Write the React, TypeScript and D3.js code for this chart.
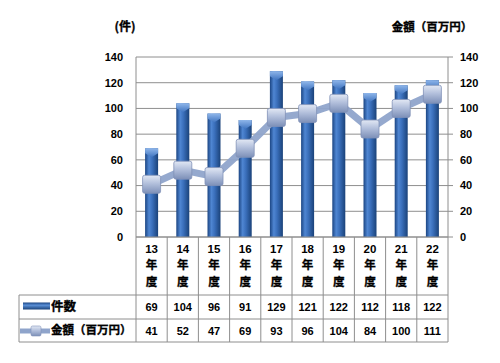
import React from "react";
import * as d3 from "d3";

const categories = ["13", "14", "15", "16", "17", "18", "19", "20", "21", "22"];
const counts = [69, 104, 96, 91, 129, 121, 122, 112, 118, 122];
const amounts = [41, 52, 47, 69, 93, 96, 104, 84, 100, 111];
const ticks = [0, 20, 40, 60, 80, 100, 120, 140];
const leftTitle = "(件)";
const rightTitle = "金額（百万円）";
const seriesNames = ["件数", "金額（百万円）"];

const W = 500;
const H = 363;
const L = 136;
const R = 448;
const T = 57;
const B = 237;
const ROW1 = 295;
const ROW2 = 319;
const ROW3 = 342;
const TL = 19;

const font = "'Liberation Sans', 'Noto Sans CJK JP', sans-serif";
const jfont = "'Noto Sans CJK JP', 'Liberation Sans', sans-serif";
const gridColor = "#8e8e8e";

export default function App() {
  const x = d3.scaleBand<string>().domain(categories).range([L, R]).padding(0);
  const y = d3.scaleLinear().domain([0, 140]).range([B, T]);
  const yR = d3.scaleLinear().domain([0, 140]).range([B, T]);
  const bw = 13;
  const cx = (c: string) => (x(c) as number) + x.bandwidth() / 2;

  const line = d3
    .line<number>()
    .x((_, i) => cx(categories[i]))
    .y((d) => yR(d));

  const ms = 18;
  const jStroke = { stroke: "#000", strokeWidth: 0.35 };

  return (
    <svg
      width={W}
      height={H}
      style={{ position: "absolute", left: 0, top: 0, background: "#fff" }}
    >
      <defs>
        <linearGradient id="barG" x1="0" x2="1" y1="0" y2="0">
          <stop offset="0%" stopColor="#1b4583" />
          <stop offset="30%" stopColor="#4f86d2" />
          <stop offset="55%" stopColor="#3a6fbb" />
          <stop offset="100%" stopColor="#1a4279" />
        </linearGradient>
        <linearGradient id="capG" x1="0" x2="0" y1="0" y2="1">
          <stop offset="0%" stopColor="#8fb6ea" />
          <stop offset="100%" stopColor="#3f74c0" />
        </linearGradient>
        <linearGradient id="legBarG" x1="0" x2="0" y1="0" y2="1">
          <stop offset="0%" stopColor="#1b4583" />
          <stop offset="40%" stopColor="#5a8fd6" />
          <stop offset="100%" stopColor="#1a4279" />
        </linearGradient>
        <linearGradient id="mkG" x1="0" x2="0" y1="0" y2="1">
          <stop offset="0%" stopColor="#e2e8f4" />
          <stop offset="45%" stopColor="#b3c0dc" />
          <stop offset="100%" stopColor="#7d90b8" />
        </linearGradient>
      </defs>

      {/* gridlines */}
      {ticks.map((t) => (
        <line
          key={"g" + t}
          x1={L}
          x2={R}
          y1={y(t)}
          y2={y(t)}
          stroke={gridColor}
          strokeWidth={1}
        />
      ))}
      {/* left axis line */}
      <line x1={L} x2={L} y1={T} y2={ROW3} stroke={gridColor} />
      {/* right axis line + ticks */}
      <line x1={R} x2={R} y1={T} y2={ROW3} stroke={gridColor} />
      {ticks.map((t) => (
        <line
          key={"rt" + t}
          x1={R}
          x2={R + 5}
          y1={yR(t)}
          y2={yR(t)}
          stroke={gridColor}
        />
      ))}

      {/* tick labels */}
      {ticks.map((t) => (
        <text
          key={"lt" + t}
          x={123}
          y={y(t)}
          dy="0.35em"
          textAnchor="end"
          fontFamily={font}
          fontWeight="bold"
          fontSize={11}
          fill="#000"
        >
          {t}
        </text>
      ))}
      {ticks.map((t) => (
        <text
          key={"rl" + t}
          x={460}
          y={yR(t)}
          dy="0.35em"
          textAnchor="start"
          fontFamily={font}
          fontWeight="bold"
          fontSize={11}
          fill="#000"
        >
          {t}
        </text>
      ))}

      {/* axis titles */}
      <text
        x={125}
        y={27}
        dy="0.35em"
        textAnchor="middle"
        fontFamily={jfont}
        fontWeight="bold"
        fontSize={12}
        {...jStroke}
      >
        {leftTitle}
      </text>
      <text
        x={432}
        y={27}
        dy="0.35em"
        textAnchor="middle"
        fontFamily={jfont}
        fontWeight="bold"
        fontSize={11.5}
        {...jStroke}
      >
        {rightTitle}
      </text>

      {/* bars */}
      {counts.map((v, i) => {
        const c = categories[i];
        const bx = cx(c) - bw / 2;
        const top = y(v);
        return (
          <g key={"b" + i}>
            <rect x={bx} y={top} width={bw} height={B - top} fill="url(#barG)" />
            <path
              d={`M${bx},${top + 5} L${bx + bw / 2},${top + 9} L${bx + bw},${top + 5} L${bx + bw},${top} L${bx},${top} Z`}
              fill="url(#capG)"
            />
          </g>
        );
      })}

      {/* line */}
      <path
        d={line(amounts) || ""}
        fill="none"
        stroke="#8fa4cb"
        strokeWidth={7}
        strokeLinejoin="round"
        opacity={0.95}
      />
      {amounts.map((v, i) => (
        <rect
          key={"m" + i}
          x={cx(categories[i]) - ms / 2}
          y={yR(v) - ms / 2}
          width={ms}
          height={ms}
          rx={2}
          fill="url(#mkG)"
          stroke="#8192b8"
          strokeWidth={0.8}
        />
      ))}

      {/* table */}
      <line x1={L} x2={R} y1={B} y2={B} stroke={gridColor} />
      <line x1={TL} x2={R} y1={ROW1} y2={ROW1} stroke={gridColor} />
      <line x1={TL} x2={R} y1={ROW2} y2={ROW2} stroke={gridColor} />
      <line x1={TL} x2={R} y1={ROW3} y2={ROW3} stroke={gridColor} />
      <line x1={TL} x2={TL} y1={ROW1} y2={ROW3} stroke={gridColor} />
      {categories.map((c, i) =>
        i === 0 ? null : (
          <line
            key={"v" + c}
            x1={x(c) as number}
            x2={x(c) as number}
            y1={B}
            y2={ROW3}
            stroke={gridColor}
          />
        )
      )}

      {/* category labels */}
      {categories.map((c) => (
        <g key={"c" + c} fontFamily={jfont} fontWeight="bold" fontSize={11.5} textAnchor="middle">
          <text x={cx(c)} y={249} dy="0.35em" fontFamily={font} fontSize={11.5}>
            {c}
          </text>
          <text x={cx(c)} y={265} dy="0.35em" {...jStroke}>
            年
          </text>
          <text x={cx(c)} y={282} dy="0.35em" {...jStroke}>
            度
          </text>
        </g>
      ))}

      {/* table values */}
      {counts.map((v, i) => (
        <text
          key={"tv1" + i}
          x={cx(categories[i])}
          y={307.5}
          dy="0.35em"
          textAnchor="middle"
          fontFamily={font}
          fontWeight="bold"
          fontSize={11}
        >
          {v}
        </text>
      ))}
      {amounts.map((v, i) => (
        <text
          key={"tv2" + i}
          x={cx(categories[i])}
          y={331}
          dy="0.35em"
          textAnchor="middle"
          fontFamily={font}
          fontWeight="bold"
          fontSize={11}
        >
          {v}
        </text>
      ))}

      {/* legend keys */}
      <rect x={23} y={302.5} width={27} height={7} fill="url(#legBarG)" />
      <text
        x={51}
        y={306.5}
        dy="0.35em"
        fontFamily={jfont}
        fontWeight="bold"
        fontSize={12.5}
        {...jStroke}
      >
        {seriesNames[0]}
      </text>
      <line x1={20} x2={50} y1={331} y2={331} stroke="#8fa4cb" strokeWidth={5} />
      <rect x={31} y={326} width={10} height={10} rx={1.5} fill="url(#mkG)" stroke="#8192b8" strokeWidth={0.6} />
      <text
        x={51}
        y={330}
        dy="0.35em"
        fontFamily={jfont}
        fontWeight="bold"
        fontSize={11.5}
        {...jStroke}
      >
        {seriesNames[1]}
      </text>
    </svg>
  );
}
